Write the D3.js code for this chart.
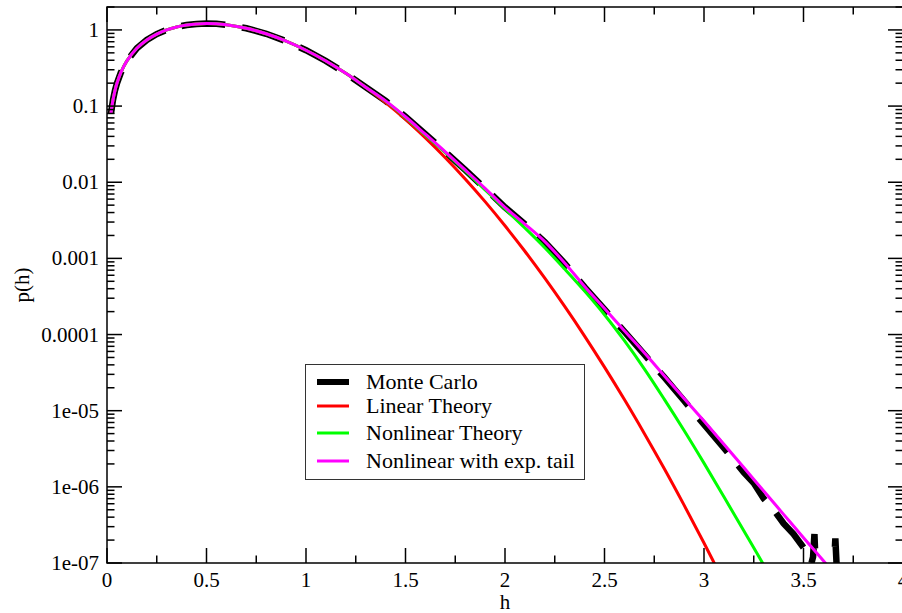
<!DOCTYPE html>
<html>
<head>
<meta charset="utf-8">
<script src="https://cdn.jsdelivr.net/npm/d3@7"></script>
<style>
  body { margin: 0; background: #fff; }
  text { font-family: "Liberation Serif", "Times New Roman", serif; fill: #000; }
</style>
</head>
<body>
<script>
// values
var hLow = [0.02, 0.03, 0.04, 0.05, 0.07, 0.1, 0.15, 0.2, 0.25, 0.3, 0.35, 0.4, 0.45, 0.5, 0.55, 0.6, 0.7, 0.8, 0.9, 1.0, 1.1, 1.2, 1.3];
var pLow = [0.080, 0.120, 0.160, 0.199, 0.277, 0.392, 0.574, 0.738, 0.882, 1.002, 1.095, 1.162, 1.200, 1.213, 1.203, 1.168, 1.051, 0.890, 0.712, 0.541, 0.391, 0.269, 0.177];

var hTail = [1.4, 1.5, 1.6, 1.7, 1.8, 1.9, 2.0, 2.1, 2.2, 2.3, 2.4, 2.5, 2.6, 2.7, 2.8, 2.9, 3.0, 3.1, 3.2, 3.3, 3.4, 3.5, 3.6, 3.62, 3.64];
var pLinear    = [0.111, 0.0667, 0.0382, 0.0210, 0.01104, 0.00556, 0.00268, 0.00124, 5.5e-4, 2.34e-4, 9.55e-5, 3.73e-5, 1.40e-5, 5.03e-6, 1.74e-6, 5.75e-7, 1.83e-7, 5.6e-8];
var pNonlinear = [0.116, 0.0708, 0.0417, 0.0245, 0.0141, 0.00794, 0.00447, 0.00251, 0.00138, 7.24e-4, 3.72e-4, 1.82e-4, 8.3e-5, 3.55e-5, 1.42e-5, 5.5e-6, 2.05e-6, 7.4e-7, 2.65e-7, 9.4e-8, 3.2e-8];
var pExpTail   = [0.117, 0.0724, 0.0427, 0.0251, 0.0145, 0.00832, 0.00468, 0.00282, 0.00166, 8.7e-4, 4.27e-4, 2.19e-4, 1.12e-4, 5.75e-5, 2.88e-5, 1.45e-5, 7.3e-6, 3.62e-6, 1.79e-6, 8.8e-7, 4.35e-7, 2.15e-7, 1.07e-7, 9.3e-8, 8.1e-8];

var hMC = [1.4, 1.5, 1.6, 1.7, 1.8, 1.9, 2.0, 2.1, 2.2, 2.3, 2.4, 2.5, 2.6, 2.7, 2.8, 2.9, 3.0, 3.1, 3.2, 3.25, 3.3, 3.35, 3.4, 3.45, 3.5, 3.52, 3.54, 3.548, 3.555, 3.562, 3.59, 3.62, 3.65, 3.66, 3.67, 3.7];
var pMC = [0.117, 0.0724, 0.0427, 0.0251, 0.0145, 0.00832, 0.00468, 0.00282, 0.00164, 8.6e-4, 4.2e-4, 2.14e-4, 1.09e-4, 5.5e-5, 2.75e-5, 1.35e-5, 6.6e-6, 3.25e-6, 1.55e-6, 1.12e-6, 7.0e-7, 5.0e-7, 3.3e-7, 2.4e-7, 1.6e-7, 1.25e-7, 1.0e-7, 1.2e-7, 2.4e-7, 8e-8, 6e-8, 6e-8, 6e-8, 2.1e-7, 6e-8, 6e-8];

var xTicks = [0, 0.5, 1, 1.5, 2, 2.5, 3, 3.5, 4];
var yTicks = [1, 0.1, 0.01, 0.001, 0.0001, 1e-5, 1e-6, 1e-7];
var yTickLabels = ["1", "0.1", "0.01", "0.001", "0.0001", "1e-05", "1e-06", "1e-07"];

var legendNames = ["Monte Carlo", "Linear Theory", "Nonlinear Theory", "Nonlinear with exp. tail"];
var legendColors = ["#000000", "#ff0000", "#00ff00", "#ff00ff"];

function zip(hs, ps) {
  return ps.map(function(p, i) { return {h: hs[i], p: p}; });
}

var series = [
  {name: "mc", color: "#000", width: 6.5, dash: "44,17", linear: true, pts: zip(hLow, pLow).concat(zip(hMC, pMC))},
  {name: "lin", color: "#ff0000", width: 3, pts: zip(hLow, pLow).concat(zip(hTail, pLinear))},
  {name: "non", color: "#00ff00", width: 3, pts: zip(hLow, pLow).concat(zip(hTail, pNonlinear))},
  {name: "exp", color: "#ff00ff", width: 3, pts: zip(hLow, pLow).concat(zip(hTail, pExpTail))}
];

var W = 902, H = 613;
var plotL = 107, plotR = 903, plotT = 7, plotB = 563;

var svg = d3.select("body").append("svg")
  .attr("width", W)
  .attr("height", H);

var x = d3.scaleLinear().domain([0, 4]).range([plotL, plotR]);
var y = d3.scaleLog().domain([1e-7, 2]).range([plotB, plotT]);

svg.append("clipPath").attr("id", "plotClip")
  .append("rect")
  .attr("x", plotL).attr("y", plotT)
  .attr("width", plotR - plotL).attr("height", plotB - plotT);

var smooth = d3.line()
  .x(function(d) { return x(d.h); })
  .y(function(d) { return y(d.p); })
  .curve(d3.curveCatmullRom.alpha(0.5));
var straight = d3.line()
  .x(function(d) { return x(d.h); })
  .y(function(d) { return y(d.p); });

var lines = svg.append("g").attr("clip-path", "url(#plotClip)");
series.forEach(function(s) {
  lines.append("path")
    .datum(s.pts)
    .attr("fill", "none")
    .attr("stroke", s.color)
    .attr("stroke-width", s.width)
    .attr("stroke-dasharray", s.dash || null)
    .attr("stroke-linejoin", "miter")
    .attr("stroke-miterlimit", 20)
    .attr("d", s.linear ? straight : smooth);
});

// ticks: major + minor, pointing inward on all four sides
var xMinor = d3.range(0.25, 4, 0.5);
var yMinor = [];
for (var e = -7; e <= 0; e++) {
  for (var m = 2; m <= 9; m++) {
    var v = m * Math.pow(10, e);
    if (v <= 2) yMinor.push(v);
  }
}

var axisG = svg.append("g").attr("stroke", "#000").attr("stroke-width", 1.5);
var major = 15, minor = 7.5;

xTicks.forEach(function(t) {
  axisG.append("line").attr("x1", x(t)).attr("x2", x(t)).attr("y1", plotB).attr("y2", plotB - major);
  axisG.append("line").attr("x1", x(t)).attr("x2", x(t)).attr("y1", plotT).attr("y2", plotT + major);
});
xMinor.forEach(function(t) {
  axisG.append("line").attr("x1", x(t)).attr("x2", x(t)).attr("y1", plotB).attr("y2", plotB - minor);
  axisG.append("line").attr("x1", x(t)).attr("x2", x(t)).attr("y1", plotT).attr("y2", plotT + minor);
});
yTicks.forEach(function(t) {
  axisG.append("line").attr("y1", y(t)).attr("y2", y(t)).attr("x1", plotL).attr("x2", plotL + major);
  axisG.append("line").attr("y1", y(t)).attr("y2", y(t)).attr("x1", plotR).attr("x2", plotR - major);
});
yMinor.forEach(function(t) {
  axisG.append("line").attr("y1", y(t)).attr("y2", y(t)).attr("x1", plotL).attr("x2", plotL + minor);
  axisG.append("line").attr("y1", y(t)).attr("y2", y(t)).attr("x1", plotR).attr("x2", plotR - minor);
});

svg.append("rect")
  .attr("x", plotL).attr("y", plotT)
  .attr("width", plotR - plotL).attr("height", plotB - plotT)
  .attr("fill", "none").attr("stroke", "#000").attr("stroke-width", 1.5);

// tick labels
svg.append("g").selectAll("text").data(xTicks).join("text")
  .attr("x", function(d) { return x(d); })
  .attr("y", plotB + 24)
  .attr("text-anchor", "middle")
  .style("font-size", "21px")
  .text(function(d) { return d; });

svg.append("g").selectAll("text").data(yTicks).join("text")
  .attr("x", plotL - 8)
  .attr("y", function(d) { return y(d) + 7; })
  .attr("text-anchor", "end")
  .style("font-size", "21px")
  .text(function(d, i) { return yTickLabels[i]; });

svg.append("text")
  .attr("x", (plotL + plotR) / 2)
  .attr("y", 609)
  .attr("text-anchor", "middle")
  .style("font-size", "21px")
  .text("h");

svg.append("text")
  .attr("transform", "translate(29," + ((plotT + plotB) / 2) + ") rotate(-90)")
  .attr("text-anchor", "middle")
  .style("font-size", "21px")
  .text("p(h)");

// legend
var legend = svg.append("g");
legend.append("rect")
  .attr("x", 305.5).attr("y", 364.5)
  .attr("width", 279).attr("height", 115)
  .attr("fill", "#fff").attr("stroke", "#333").attr("stroke-width", 1);

var rowY = [382, 406, 433, 461];
legendNames.forEach(function(name, i) {
  legend.append("line")
    .attr("x1", 317).attr("x2", 349)
    .attr("y1", rowY[i]).attr("y2", rowY[i])
    .attr("stroke", legendColors[i])
    .attr("stroke-width", i === 0 ? 6 : 3);
  legend.append("text")
    .attr("x", 366).attr("y", rowY[i] + 7)
    .style("font-size", "22px")
    .text(name);
});
</script>
</body>
</html>
